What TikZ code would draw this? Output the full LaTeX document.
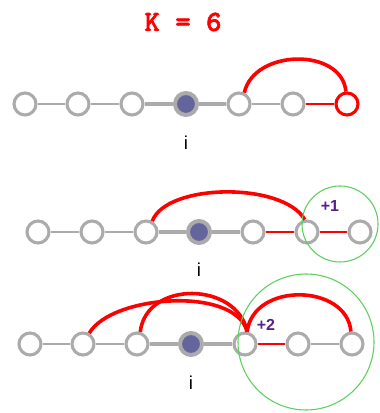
\documentclass[tikz,border=0pt]{standalone}
\usepackage{fontspec}
\setmainfont{Liberation Sans}
\newfontfamily\kfont{lmmonolt10-bold.otf}[BoldFont=lmmonolt10-bold.otf,BoldFeatures={FakeBold=2}]
\usetikzlibrary{calc}
\definecolor{dotgray}{HTML}{ABABAB}
\definecolor{dotfill}{HTML}{65659E}
\definecolor{ringgreen}{HTML}{5CD05C}
\definecolor{plumtext}{HTML}{58208F}
\tikzset{
  dot/.style={circle,draw=dotgray,fill=white,line width=2.3pt,minimum size=16.5pt,inner sep=0pt},
  hub/.style={dot,fill=dotfill,line width=3pt},
  reddot/.style={dot,draw=red},
  link/.style={dotgray,line width=1.6pt},
  hublink/.style={dotgray,line width=2.4pt},
  redlink/.style={red,line width=2pt},
  hop/.style={red,line width=2.7pt},
  ring/.style={ringgreen,line width=0.8pt},
  gain/.style={plumtext,font=\bfseries\fontsize{12}{12}\selectfont},
  ilbl/.style={font=\fontsize{14}{14}\selectfont}
}
\begin{document}
\begin{tikzpicture}[x=0.75pt,y=0.75pt]
   \useasboundingbox (0,0) rectangle (379,413);
   \node[red,font=\kfont\bfseries\fontsize{22}{22}\selectfont] (title) at (183,391) {K = 6};
   % row 1
      \foreach \n/\x in {1/25,2/78,3/132,5/239,6/293}
          \node[dot] (a\n) at (\x,309) {};
      \node[hub] (a4) at (186,309) {};
      \node[reddot] (a7) at (347,309) {};
      \draw[link] (a1)--(a2) (a2)--(a3) (a5)--(a6);
      \draw[hublink] (a3)--(a4) (a4)--(a5);
      \draw[redlink] (a6)--(a7);
      \draw[hop] (a5.65) .. controls +(10,44) and +(-4,44) .. (a7.95);
      \node[ilbl] (i1) at (186,270) {i};
   % row 2
      \foreach \n/\x in {1/38,2/92,3/146,5/253,6/307,7/360}
          \node[dot] (b\n) at (\x,181) {};
      \node[hub] (b4) at (199,181) {};
      \draw[link] (b1)--(b2) (b2)--(b3);
      \draw[hublink] (b3)--(b4) (b4)--(b5);
      \draw[redlink] (b5)--(b6) (b6)--(b7);
      \draw[hop] (b3.60) .. controls +(14,38) and +(-22,38) .. (b6.100);
      \node[ilbl] (i2) at (199,143) {i};
      \draw[ring] (340,189) circle (38);
      \node[gain] (p1) at (330,207) {+1};
   % row 3
      \foreach \n/\x in {1/30,2/83,3/137,5/245,6/298,7/352}
          \node[dot] (c\n) at (\x,69) {};
      \node[hub] (c4) at (191,69) {};
      \draw[link] (c1)--(c2) (c2)--(c3) (c6)--(c7);
      \draw[hublink] (c3)--(c4) (c4)--(c5);
      \draw[redlink] (c5)--(c6);
      \draw[hop] (c2.60) .. controls +(22,38) and +(-12,46) .. (c5.80);
      \draw[hop] (c3.75) .. controls +(6,52) and +(-10,50) .. (c5.80);
      \draw[hop] (c5.80) .. controls +(6,50) and +(-4,48) .. (c7.95);
      \node[ilbl] (i3) at (191,30) {i};
      \draw[ring] (306,71) circle (68);
      \node[gain] (p2) at (266,88) {+2};
\end{tikzpicture}
\end{document}
